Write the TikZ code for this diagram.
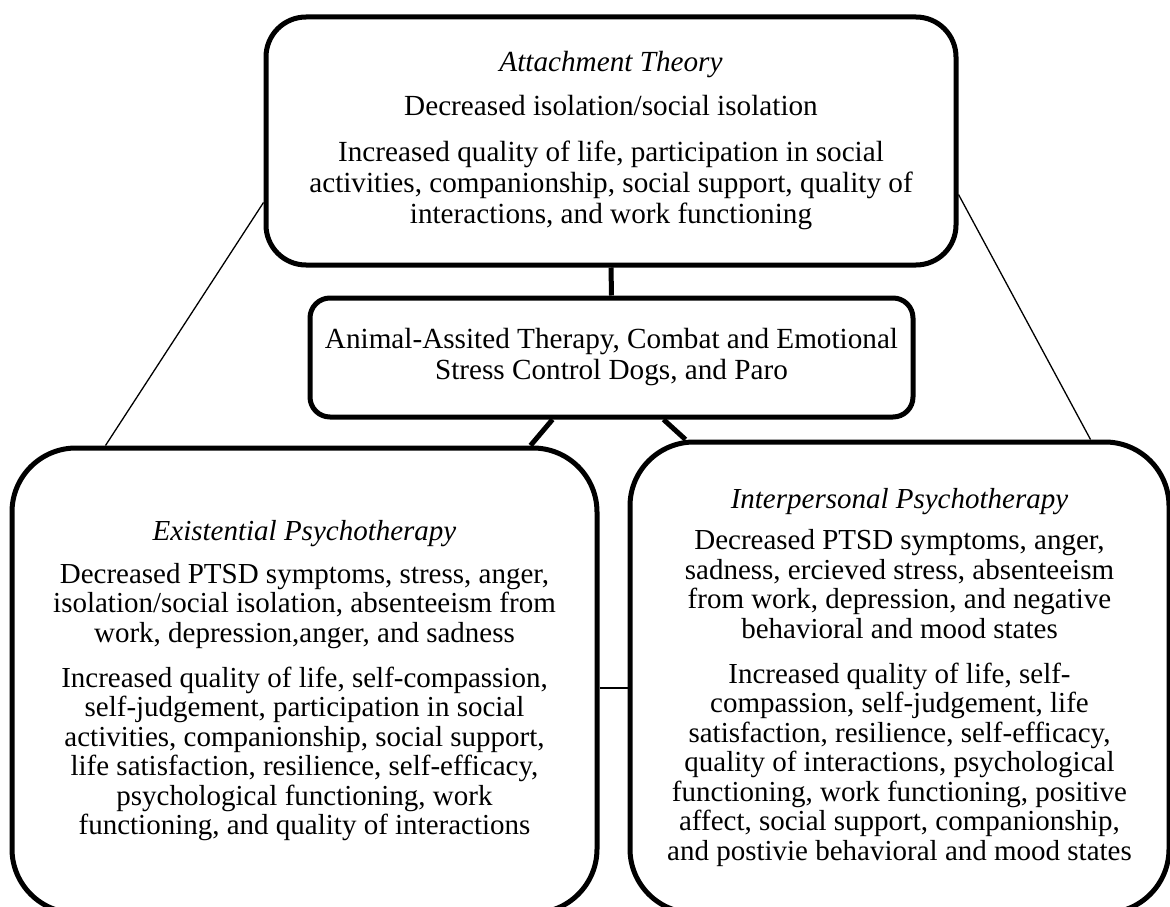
\documentclass[tikz,border=0pt]{standalone}
\usepackage{fontspec}
\setmainfont{Liberation Serif}
\begin{document}
\begin{tikzpicture}[x=1pt,y=-1pt,
  bigbox/.style={draw, line width=5pt, align=center, inner sep=0pt},
  thick conn/.style={line width=5pt},
  thin conn/.style={line width=1.3pt},
  bigfont/.style={font=\fontsize{29.2}{31}\selectfont},
  smallfont/.style={font=\fontsize{29}{29.5}\selectfont}]
\useasboundingbox (0,0) rectangle (1170,907);
\node[bigbox, bigfont, rounded corners=40pt, minimum width=690pt, minimum height=248pt] (top) at (611,141)
 {\textit{Attachment Theory}\\[13pt]
  Decreased isolation/social isolation\\[15pt]
  Increased quality of life, participation in social\\
  activities, companionship, social support, quality of\\
  interactions, and work functioning};
\node[bigbox, bigfont, rounded corners=20pt, minimum width=603pt, minimum height=119pt] (mid) at (611.5,357.5)
 {Animal-Assited Therapy, Combat and Emotional\\
  Stress Control Dogs, and Paro};
\node[bigbox, smallfont, rounded corners=64pt, minimum width=585pt, minimum height=465pt] (ex) at (304.5,680.5)
 {\textit{Existential Psychotherapy}\\[13.5pt]
  Decreased PTSD symptoms, stress, anger,\\
  isolation/social isolation, absenteeism from\\
  work, depression,anger, and sadness\\[15.5pt]
  Increased quality of life, self-compassion,\\
  self-judgement, participation in social\\
  activities, companionship, social support,\\
  life satisfaction, resilience, self-efficacy,\\
  psychological functioning, work\\
  functioning, and quality of interactions};
\node[bigbox, smallfont, rounded corners=64pt, minimum width=539pt, minimum height=471pt] (ip) at (899.5,677.5)
 {\textit{Interpersonal Psychotherapy}\\[12pt]
  Decreased PTSD symptoms, anger,\\
  sadness, ercieved stress, absenteeism\\
  from work, depression, and negative\\
  behavioral and mood states\\[15.5pt]
  Increased quality of life, self-\\
  compassion, self-judgement, life\\
  satisfaction, resilience, self-efficacy,\\
  quality of interactions, psychological\\
  functioning, work functioning, positive\\
  affect, social support, companionship,\\
  and postivie behavioral and mood states};
\draw[thick conn] (top.south) -- (mid.north);
\draw[thick conn] ([xshift=245pt]mid.south west) -- ([xshift=-69pt]ex.north east);
\draw[thick conn] ([xshift=356pt]mid.south west) -- ([xshift=58pt]ip.north west);
\draw[thin conn] ([yshift=65pt]top.south west) -- ([xshift=96pt]ex.north west);
\draw[thin conn] ([yshift=73pt]top.south east) -- ([xshift=-81pt]ip.north east);
\draw[thin conn] (ex.east |- 0,688) -- (ip.west |- 0,688);
\end{tikzpicture}
\end{document}
